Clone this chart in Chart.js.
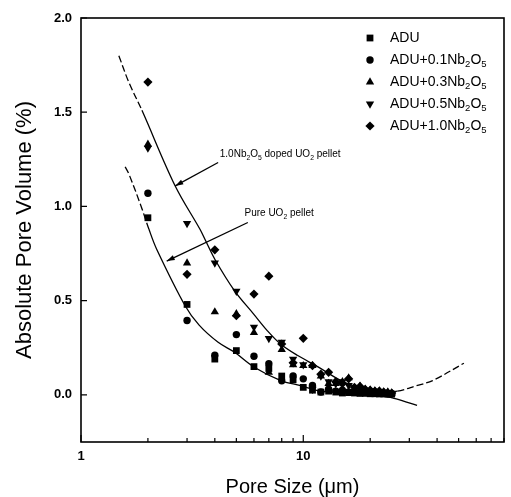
<!DOCTYPE html>
<html>
<head>
<meta charset="utf-8">
<script src="https://cdn.jsdelivr.net/npm/chart.js@4.4.1/dist/chart.umd.min.js"></script>
<style>
html,body{margin:0;padding:0;background:#fff;}
#wrap{width:511px;height:497px;}
</style>
</head>
<body>
<div id="wrap"><canvas id="c" width="511" height="497"></canvas></div>
<script>
// ---------- data ----------
const poreSizes = [2,3,4,5,6,7,8,9,10,11,12,13,14,15,16,17,18,19,20,21,22,23,24,25];
const volADU  = [0.94,0.48,0.19,0.235,0.15,0.14,0.10,0.08,0.04,0.025,0.015,0.02,0.015,0.01,0.012,0.01,0.008,0.008,0.006,0.006,0.005,0.005,0.004,0.004];
const volNb01 = [1.07,0.395,0.21,0.32,0.205,0.165,0.075,0.10,0.085,0.05,0.015,0.03,0.02,0.025,0.015,0.02,0.012,0.015,0.01,0.012,0.008,0.01,0.006,0.006];
const volNb03 = [1.33,0.70,0.44,0.43,0.33,0.12,0.24,0.16,0.155,0.155,0.10,0.06,0.06,0.07,0.09,0.03,0.045,0.03,0.025,0.02,0.02,0.015,0.015,0.01];
const volNb05 = [1.31,0.91,0.70,0.55,0.36,0.30,0.28,0.19,0.16,0.03,0.10,0.07,0.06,0.07,0.05,0.035,0.03,0.025,0.02,0.02,0.015,0.012,0.01,0.008];
const volNb10 = [1.66,0.64,0.77,0.42,0.535,0.63,0.27,0.17,0.30,0.155,0.11,0.12,0.07,0.06,0.085,0.04,0.045,0.03,0.025,0.02,0.02,0.015,0.012,0.01];
const seriesNames = ['ADU','ADU+0.1Nb2O5','ADU+0.3Nb2O5','ADU+0.5Nb2O5','ADU+1.0Nb2O5'];

// fitted curves
const dopedFitX = [1.48,1.64,1.88,2.65,3.43,3.61,4.0,4.91,5.97,6.9,7.9,9.4,11.6,15,19.9,26.2,32.5];
const dopedFitY = [1.80,1.66,1.51,1.11,0.879,0.826,0.72,0.552,0.43,0.34,0.27,0.21,0.15,0.072,0.018,-0.021,-0.056];
const pureFitX  = [1.58,1.645,1.865,2.02,2.19,2.94,3.4,4.14,4.91,6.02,7.93,9.73,11.6,15,20,26.5,32.3,38.2,52.8];
const pureFitY  = [1.21,1.17,1.0,0.88,0.773,0.473,0.37,0.279,0.226,0.147,0.076,0.049,0.023,0.012,0.01,0.02,0.049,0.076,0.168];

// axes
const xTickValues  = [1,2,3,4,5,6,7,8,9,10,20,30,40,50,60,70,80];
const xLabelValues = [1,10];
const yTickValues  = [0,0.5,1.0,1.5,2.0];

// annotations (text, text anchor, arrow tail, arrow tip) in data units
const annoTexts = ['1.0Nb2O5 doped UO2 pellet','Pure UO2 pellet'];
const annoTextAt = [[4.21,1.276],[5.44,0.962]];
const annoTail   = [[4.14,1.233],[5.63,0.915]];
const annoTip    = [[2.655,1.109],[2.43,0.71]];

// ---------- helpers ----------
const FONT = '"Liberation Sans", Arial, Helvetica, sans-serif';
const pts = (xs, ys) => xs.map((v,i)=>({x:v, y:ys[i]}));
const markerStyles = [
  {style:'rect', r:4.8, rot:0},
  {style:'circle', r:3.7, rot:0},
  {style:'triangle', r:4.8, rot:0},
  {style:'triangle', r:4.8, rot:180},
  {style:'rectRot', r:4.6, rot:0}
];
const seriesValues = [volADU, volNb01, volNb03, volNb05, volNb10];

function richParts(str){ return str.split(/(?<=[bO])(\d)/); }
function drawRich(ctx, str, x, y, size){
  const parts = richParts(str);
  let cx = x;
  ctx.textBaseline = 'middle';
  ctx.textAlign = 'left';
  parts.forEach((p,i)=>{
    if(!p) return;
    const sub = i % 2 === 1;
    const s = sub ? size*0.68 : size;
    ctx.font = s + 'px ' + FONT;
    ctx.fillText(p, cx, sub ? y + size*0.32 : y);
    cx += ctx.measureText(p).width;
  });
}
function drawMarker(ctx, m, x, y){
  ctx.beginPath();
  const r = m.r;
  if(m.style==='circle'){ ctx.arc(x,y,r,0,Math.PI*2); }
  else if(m.style==='rect'){ const s=r*Math.SQRT1_2; ctx.rect(x-s,y-s,2*s,2*s); }
  else if(m.style==='rectRot'){ ctx.moveTo(x,y-r); ctx.lineTo(x+r,y); ctx.lineTo(x,y+r); ctx.lineTo(x-r,y); ctx.closePath(); }
  else if(m.style==='triangle'){
    let a = m.rot*Math.PI/180;
    ctx.moveTo(x+Math.sin(a)*r, y-Math.cos(a)*r);
    for(let k=1;k<3;k++){ a += 2*Math.PI/3; ctx.lineTo(x+Math.sin(a)*r, y-Math.cos(a)*r); }
    ctx.closePath();
  }
  ctx.fill();
}

const decor = {
  id:'decor',
  afterDatasetsDraw(chart){
    const {ctx, chartArea:a, scales:{x, y}} = chart;
    ctx.save();
    ctx.strokeStyle = '#000'; ctx.fillStyle = '#000';
    ctx.lineWidth = 1.6;
    ctx.strokeRect(a.left, a.top, a.right-a.left, a.bottom-a.top);
    ctx.lineWidth = 1.2;
    ctx.beginPath();
    x.ticks.forEach(t=>{
      const px = x.getPixelForValue(t.value);
      const L = xLabelValues.includes(t.value) ? 7 : 4;
      ctx.moveTo(px, a.bottom); ctx.lineTo(px, a.bottom-L);
    });
    y.ticks.forEach(t=>{
      const py = y.getPixelForValue(t.value);
      ctx.moveTo(a.left, py); ctx.lineTo(a.left+6, py);
    });
    ctx.stroke();

    // legend
    seriesNames.forEach((name,i)=>{
      const ly = a.top + 20 + i*22;
      drawMarker(ctx, markerStyles[i], a.right-134, ly);
      drawRich(ctx, name, a.right-114, ly, 14);
    });

    // annotations with arrows
    annoTexts.forEach((t,i)=>{
      const tx = x.getPixelForValue(annoTextAt[i][0]), ty = y.getPixelForValue(annoTextAt[i][1]);
      drawRich(ctx, t, tx, ty, 10);
      const x0 = x.getPixelForValue(annoTail[i][0]), y0 = y.getPixelForValue(annoTail[i][1]);
      const x1 = x.getPixelForValue(annoTip[i][0]),  y1 = y.getPixelForValue(annoTip[i][1]);
      ctx.lineWidth = 1.3;
      ctx.beginPath(); ctx.moveTo(x0,y0); ctx.lineTo(x1,y1); ctx.stroke();
      const ang = Math.atan2(y1-y0, x1-x0), hl = 8, hw = 2.6;
      ctx.beginPath();
      ctx.moveTo(x1,y1);
      ctx.lineTo(x1 - hl*Math.cos(ang) + hw*Math.sin(ang), y1 - hl*Math.sin(ang) - hw*Math.cos(ang));
      ctx.lineTo(x1 - hl*Math.cos(ang) - hw*Math.sin(ang), y1 - hl*Math.sin(ang) + hw*Math.cos(ang));
      ctx.closePath(); ctx.fill();
    });
    ctx.restore();
  }
};

const pointSets = seriesNames.map((name,i)=>({
  label: name,
  data: pts(poreSizes, seriesValues[i]),
  showLine: false,
  pointStyle: markerStyles[i].style,
  pointRadius: markerStyles[i].r,
  pointRotation: markerStyles[i].rot,
  pointBackgroundColor: '#000',
  pointBorderColor: '#000',
  pointBorderWidth: 0
}));
// dashed where the fits are extrapolated (outside the measured range)
const DASH = [7,3];
const fitSet = (label, xs, ys, dashBelow, dashAbove) => ({
  label,
  data: pts(xs, ys),
  showLine: true,
  pointRadius: 0,
  borderColor: '#000',
  borderWidth: 1.3,
  tension: 0.35,
  fill: false,
  segment: {
    borderDash: c => (c.p1.parsed.x <= dashBelow || c.p0.parsed.x >= dashAbove) ? DASH : undefined
  }
});
const lineSets = [
  fitSet('1.0Nb2O5 doped UO2 pellet', dopedFitX, dopedFitY, 1.88, 1000),
  fitSet('Pure UO2 pellet', pureFitX, pureFitY, 2.02, 26.5)
];

new Chart(document.getElementById('c'), {
  type: 'scatter',
  data: { datasets: [...pointSets, ...lineSets] },
  options: {
    responsive: false,
    animation: false,
    layout: { padding: { top: 18, right: 2, left: 0, bottom: 0 } },
    plugins: { legend: { display: false }, tooltip: { enabled: false } },
    scales: {
      x: {
        type: 'logarithmic', min: 1, max: 80,
        afterBuildTicks: s => { s.ticks = xTickValues.map(v => ({ value: v })); },
        afterFit: s => { s.height = 55; },
        grid: { display: false, drawTicks: false },
        border: { display: false },
        ticks: {
          autoSkip: false, maxRotation: 0, padding: 7, color: '#000',
          font: { family: FONT, size: 13, weight: 'bold' },
          callback: v => xLabelValues.includes(v) ? String(v) : ''
        },
        title: { display: true, text: 'Pore Size (μm)', color: '#000',
                 font: { family: FONT, size: 20, lineHeight: 1 }, padding: { top: 0, bottom: 0 } }
      },
      y: {
        min: -0.25, max: 2.0,
        afterBuildTicks: s => { s.ticks = yTickValues.map(v => ({ value: v })); },
        afterFit: s => { s.width = 81; },
        grid: { display: false, drawTicks: false },
        border: { display: false },
        ticks: {
          padding: 9, color: '#000',
          font: { family: FONT, size: 13, weight: 'bold' },
          callback: v => Number(v).toFixed(1)
        },
        title: { display: true, text: 'Absolute Pore Volume (%)', color: '#000',
                 font: { family: FONT, size: 22, lineHeight: 1 }, padding: { top: 14, bottom: 0 } }
      }
    }
  },
  plugins: [decor]
});
</script>
</body>
</html>
